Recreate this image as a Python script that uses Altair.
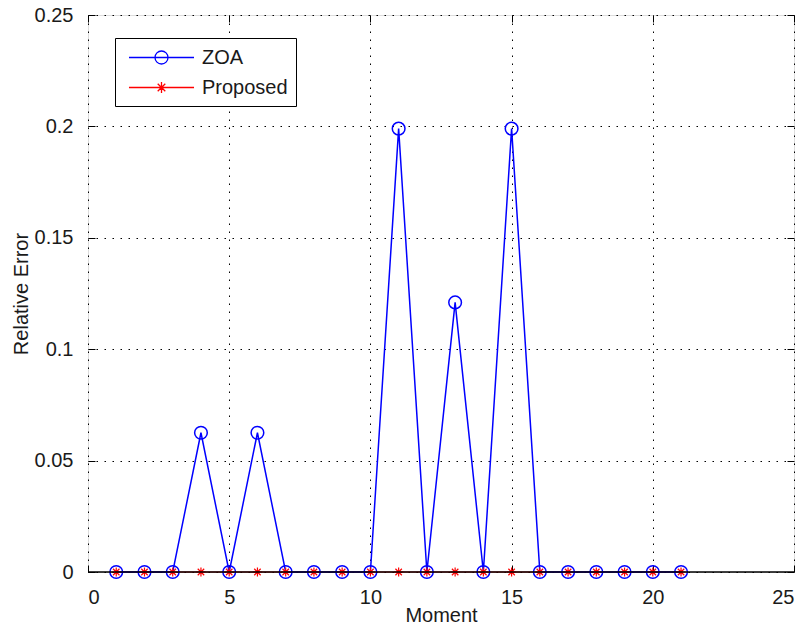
import altair as alt
import pandas as pd

moments = list(range(1, 22))
zoa = [0, 0, 0, 0.0625, 0, 0.0625, 0, 0, 0, 0, 0.199, 0, 0.121, 0, 0.199, 0, 0, 0, 0, 0, 0]
proposed = [0] * 21
series_names = ["ZOA", "Proposed"]
series_colors = ["#0000FF", "#FF0000"]
x_ticks = [0, 5, 10, 15, 20, 25]
y_ticks = [0, 0.05, 0.1, 0.15, 0.2, 0.25]

df = pd.DataFrame({
    "Moment": moments * 2,
    "Value": zoa + proposed,
    "Series": ["ZOA"] * len(moments) + ["Proposed"] * len(moments),
})
df_zoa = df[df.Series == "ZOA"]
df_prop = df[df.Series == "Proposed"]

FONT = "Liberation Sans"
FS = 20
TXT = "#1a1a1a"
TL = 7
ASTER = "M0,-1V1M-1,0H1M-0.7,-0.7L0.7,0.7M-0.7,0.7L0.7,-0.7"
LEG_ZOA = "M-3,0H3M0.6,0A0.6,0.6 0 1 1 -0.6,0A0.6,0.6 0 1 1 0.6,0"
LEG_PROP = "M-3,0H3M0,-0.5V0.5M-0.5,0H0.5M-0.35,-0.35L0.35,0.35M-0.35,0.35L0.35,-0.35"

xscale = alt.Scale(domain=[0, 25], nice=False)
yscale = alt.Scale(domain=[0, 0.25], nice=False)

grid_kw = dict(grid=True, gridColor="black", gridDash=[1.5, 6.5], gridOpacity=1, gridWidth=1)
lab_kw = dict(labelFont=FONT, labelFontSize=FS, labelColor=TXT,
              titleFont=FONT, titleFontSize=FS, titleFontWeight="normal", titleColor=TXT)

xaxis = alt.Axis(values=x_ticks, title="Moment", domain=False, offset=-TL, tickSize=TL,
                 tickColor="black", tickWidth=1, labelPadding=8 + TL, titlePadding=-2,
                 **grid_kw, **lab_kw)
yaxis = alt.Axis(values=y_ticks, format="~g", title="Relative Error", domain=False,
                 offset=-TL, tickSize=TL, tickColor="black", tickWidth=1,
                 labelPadding=8 + TL, titlePadding=3, **grid_kw, **lab_kw)
xaxis_top = alt.Axis(values=x_ticks, orient="top", title=None, labels=False, domain=False,
                     offset=-TL, tickSize=TL, tickColor="black", tickWidth=1, grid=False)
yaxis_right = alt.Axis(values=y_ticks, orient="right", title=None, labels=False, domain=False,
                       offset=-TL, tickSize=TL, tickColor="black", tickWidth=1, grid=False)

x_main = alt.X("Moment:Q", scale=xscale, axis=xaxis)
y_main = alt.Y("Value:Q", scale=yscale, axis=yaxis)
x_none = alt.X("Moment:Q", scale=xscale, axis=None)
y_none = alt.Y("Value:Q", scale=yscale, axis=None)

line_prop = alt.Chart(df_prop).mark_line(color="#FF0000", strokeWidth=1).encode(x=x_main, y=y_main)
line_zoa = alt.Chart(df_zoa).mark_line(color="#0000FF", strokeWidth=1.5).encode(x=x_none, y=y_none)
pts_zoa = alt.Chart(df_zoa).mark_point(shape="circle", filled=False, color="#0000FF",
                                       size=160, strokeWidth=1.5, opacity=1).encode(x=x_none, y=y_none)
pts_prop = alt.Chart(df_prop).mark_point(shape=ASTER, filled=False, color="#FF0000",
                                         size=85, strokeWidth=1.2, opacity=1).encode(x=x_none, y=y_none)
zero_rule = alt.Chart(df_prop).mark_rule(color="black", strokeWidth=1.5).encode(
    y=alt.Y("min(Value):Q", scale=yscale, axis=None))

legend = alt.Legend(title=None, orient="none", legendX=27, legendY=23,
                    strokeColor="black", fillColor="white", padding=8,
                    symbolSize=470, symbolStrokeWidth=1.3, symbolOpacity=1,
                    symbolFillColor="transparent", symbolOffset=27, labelOffset=29,
                    rowPadding=8, labelFont=FONT, labelFontSize=FS, labelColor=TXT)
leg_layer = alt.Chart(df).mark_point(filled=False, opacity=0).encode(
    x=alt.X("Moment:Q", scale=xscale, axis=xaxis_top),
    y=alt.Y("Value:Q", scale=yscale, axis=yaxis_right),
    color=alt.Color("Series:N", scale=alt.Scale(domain=series_names, range=series_colors), legend=legend),
    shape=alt.Shape("Series:N", scale=alt.Scale(domain=series_names, range=[LEG_ZOA, LEG_PROP]), legend=legend),
)

chart = alt.layer(line_prop, line_zoa, pts_zoa, pts_prop, zero_rule, leg_layer).resolve_axis(
    x="independent", y="independent"
).properties(
    width=706, height=557,
    autosize=alt.AutoSizeParams(type="none"),
    padding={"left": 80, "top": 7, "right": 3, "bottom": 58},
).configure_view(stroke="black", strokeWidth=1).configure(background="white")

chart.save("out.html", embed_options={"renderer": "svg", "actions": False})
